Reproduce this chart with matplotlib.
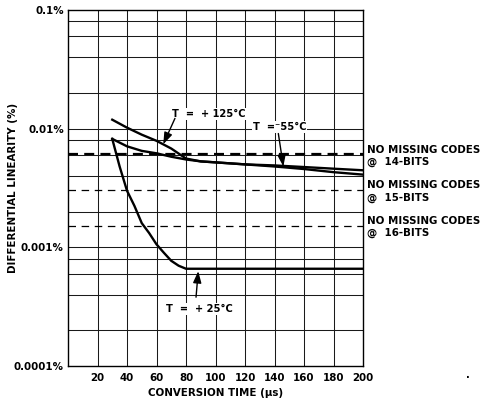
import matplotlib
matplotlib.use("Agg")
import matplotlib.pyplot as plt
from matplotlib.ticker import FixedLocator, FixedFormatter

plt.rcParams['font.family'] = ['DejaVu Sans']
plt.rcParams['font.weight'] = 'bold'

# Conversion time (us) and differential linearity (%) per temperature
time_us = [30, 40, 50, 60, 70, 80, 90, 100, 120, 140, 160, 180, 200]
dnl_125c = [0.0119, 0.0102, 0.0089, 0.0079, 0.0068, 0.0056, 0.0053, 0.0052,
            0.0050, 0.0049, 0.00475, 0.0046, 0.00446]
dnl_m55c = [0.0082, 0.0071, 0.0065, 0.0062, 0.0058, 0.0055, 0.0053, 0.0052,
            0.0050, 0.0048, 0.00457, 0.0043, 0.0041]

time_25c = [30, 35, 40, 45, 50, 55, 60, 65, 70, 75, 80, 200]
dnl_25c = [0.0082, 0.0048, 0.0030, 0.00224, 0.00160, 0.00132, 0.00106,
           0.00090, 0.00077, 0.00070, 0.00066, 0.00066]

# No-missing-codes limits: 1 LSB in percent of full scale
bits = [14, 15, 16]
lsb_pct = [100.0 / 2 ** b for b in bits]

x_ticks = [20, 40, 60, 80, 100, 120, 140, 160, 180, 200]
y_ticks = [0.0001, 0.001, 0.01, 0.1]
y_tick_labels = ["0.0001%", "0.001%", "0.01%", "0.1%"]

FS = 7.4

fig = plt.figure(figsize=(4.87, 4.0), dpi=100)
ax = fig.add_axes([68 / 487, 34 / 400, 295 / 487, 356 / 400])
ax.set_yscale('log')
ax.set_xlim(0, 200)
ax.set_ylim(0.0001, 0.1)

# grid: verticals every 20 us, horizontals at 1, 2, 4, 6, 8 x each decade
grid_kw = dict(color='#1a1a1a', lw=0.75, zorder=1)
for xv in x_ticks[:-1]:
    ax.axvline(xv, **grid_kw)
for dec in [0.0001, 0.001, 0.01]:
    for m in [1, 2, 4, 6, 8]:
        if dec * m > 0.0001:
            ax.axhline(dec * m, **grid_kw)

# limit lines
ax.axhline(lsb_pct[0], color='black', lw=1.6, dashes=(4.5, 2.8), zorder=2)
for v in lsb_pct[1:]:
    ax.axhline(v, color='black', lw=0.9, dashes=(6, 4.5), zorder=2)

# curves
curve_kw = dict(color='black', lw=1.7, zorder=3, solid_joinstyle='miter')
ax.plot(time_us, dnl_125c, **curve_kw)
ax.plot(time_us, dnl_m55c, **curve_kw)
ax.plot(time_25c, dnl_25c, **curve_kw)

for s in ax.spines.values():
    s.set_linewidth(1.0)
    s.set_color('black')

ax.xaxis.set_major_locator(FixedLocator(x_ticks))
ax.xaxis.set_major_formatter(FixedFormatter([str(t) for t in x_ticks]))
ax.yaxis.set_major_locator(FixedLocator(y_ticks))
ax.yaxis.set_major_formatter(FixedFormatter(y_tick_labels))
ax.yaxis.set_minor_locator(FixedLocator([]))
ax.tick_params(axis='both', length=0, labelsize=FS)
ax.tick_params(axis='x', pad=5)
ax.tick_params(axis='y', pad=3)
for lab in ax.get_xticklabels() + ax.get_yticklabels():
    lab.set_fontweight('bold')

ax.set_xlabel("CONVERSION TIME (\u03bcs)", fontsize=FS, fontweight='bold')
ax.xaxis.set_label_coords(0.5, -0.062)
ax.set_ylabel("DIFFERENTIAL LINEARITY (%)", fontsize=FS, fontweight='bold')
ax.yaxis.set_label_coords(-0.188, 0.5)
ax.yaxis.label.set_va('center')

# temperature labels with arrows
txt_kw = dict(fontsize=7.1, fontweight='bold', ha='center', va='center', zorder=5,
              bbox=dict(facecolor='white', edgecolor='none', pad=0.6))
arrow_kw = dict(arrowstyle='-|>,head_length=0.7,head_width=0.25', color='black',
                lw=1.0, shrinkA=0, shrinkB=0)

ax.text(95.6, 0.0133, "T  =  + 125\u00b0C", **txt_kw)
ax.annotate("", xy=(64.6, 0.0074), xytext=(72.5, 0.0122), arrowprops=arrow_kw, zorder=6)

ax.text(143.7, 0.01035, "T  =\u207b55\u00b0C", **txt_kw)
ax.annotate("", xy=(146.0, 0.0048), xytext=(142.6, 0.0091), arrowprops=arrow_kw, zorder=6)

ax.text(88.8, 0.000303, "T  =  + 25\u00b0C", **txt_kw)
ax.annotate("", xy=(88.3, 0.00063), xytext=(86.8, 0.00038), arrowprops=arrow_kw, zorder=6)

# limit annotations on the right
for b, v in zip(bits, lsb_pct):
    ax.text(202.5, v * 0.97, "NO MISSING CODES\n@  %d-BITS" % b, fontsize=FS,
            fontweight='bold', ha='left', va='center', linespacing=1.25,
            clip_on=False)

fig.text(468 / 487, 1 - 378 / 400, ".", fontsize=7, fontweight='bold',
         ha='center', va='baseline')

fig.savefig("out.png", dpi=100)
